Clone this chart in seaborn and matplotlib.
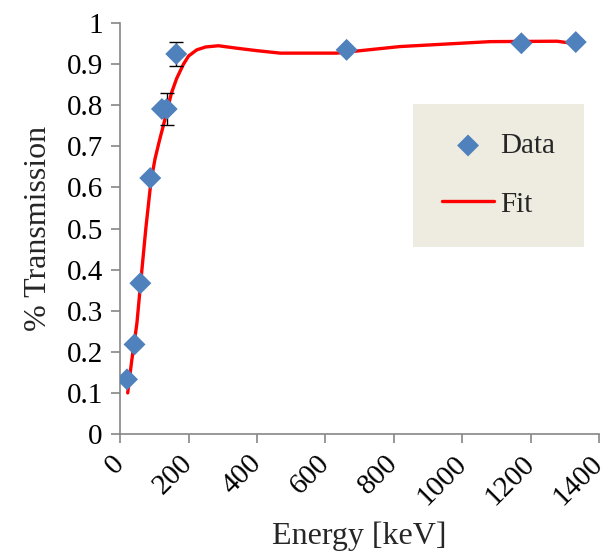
import matplotlib
matplotlib.use('Agg')
import matplotlib.pyplot as plt
import seaborn as sns
import pandas as pd

# measured points
energy = [20, 42, 59, 88, 122, 136, 164, 662, 1173, 1332]
transmission = [0.133, 0.218, 0.367, 0.623, 0.791, 0.791, 0.925, 0.935, 0.951, 0.954]
trans_err = [0.0, 0.0, 0.0, 0.0, 0.0, 0.04, 0.03, 0.0, 0.0, 0.0]

# fit curve
fit_energy = [22, 34, 49, 59, 75, 90, 102, 115, 126, 150, 165, 185, 200, 224, 250, 287,
              341, 400, 468, 633, 818, 1082, 1277, 1330]
fit_value = [0.10, 0.18, 0.27, 0.36, 0.50, 0.615, 0.67, 0.715, 0.75, 0.83, 0.865, 0.90,
             0.92, 0.935, 0.942, 0.945, 0.939, 0.933, 0.927, 0.927, 0.943, 0.955, 0.956, 0.950]

x_ticks = [0, 200, 400, 600, 800, 1000, 1200, 1400]
y_ticks = [0, 0.1, 0.2, 0.3, 0.4, 0.5, 0.6, 0.7, 0.8, 0.9, 1]
y_labels = ['0', '0.1', '0.2', '0.3', '0.4', '0.5', '0.6', '0.7', '0.8', '0.9', '1']

sns.set_theme(style="ticks")
plt.rcParams['font.family'] = ['Liberation Serif', 'DejaVu Serif']

df = pd.DataFrame({'energy': energy, 'transmission': transmission, 'err': trans_err})
fit_df = pd.DataFrame({'energy': fit_energy, 'value': fit_value})

fig = plt.figure(figsize=(6.1, 5.59), dpi=100)
ax = fig.add_axes([0.197, 0.2236, 0.785, 0.735])

sns.lineplot(data=fit_df, x='energy', y='value', color='#FF0000', linewidth=2.4,
             ax=ax, label='Fit', zorder=2)
ax.errorbar(df['energy'], df['transmission'], yerr=df['err'], fmt='none',
            ecolor='black', elinewidth=1, capsize=5, capthick=1, zorder=3)
sns.scatterplot(data=df, x='energy', y='transmission', marker='D', s=125,
                color='#4F81BD', edgecolor='none', ax=ax, label='Data', zorder=4)

ax.set_xlim(0, 1400)
ax.set_ylim(0, 1)
ax.set_xticks(x_ticks)
ax.set_xticklabels([str(t) for t in x_ticks], rotation=45, ha='right', va='center',
                   rotation_mode='anchor', fontsize=21)
ax.set_yticks(y_ticks)
ax.set_yticklabels(y_labels, fontsize=21)
ax.set_xlabel('Energy [keV]', fontsize=23, labelpad=8)
ax.set_ylabel('% Transmission', fontsize=23, labelpad=10)

for side in ['top', 'right']:
    ax.spines[side].set_visible(False)
for side in ['left', 'bottom']:
    ax.spines[side].set_color('#868686')
    ax.spines[side].set_linewidth(1.2)
ax.tick_params(axis='both', color='#868686', length=6.5, width=1.2, labelcolor='black')
ax.tick_params(axis='y', pad=6)
ax.tick_params(axis='x', pad=12)

handles, labels = ax.get_legend_handles_labels()
order = [labels.index('Data'), labels.index('Fit')]
leg = ax.legend([handles[i] for i in order], [labels[i] for i in order],
                loc='center', bbox_to_anchor=(0.79, 0.63), fontsize=21,
                frameon=True, fancybox=False, framealpha=1, facecolor='#EEEBE0',
                edgecolor='none', handlelength=1.8, handletextpad=0.2,
                labelspacing=1.1, borderpad=1.0, borderaxespad=0)

fig.savefig('out.png', dpi=100)
